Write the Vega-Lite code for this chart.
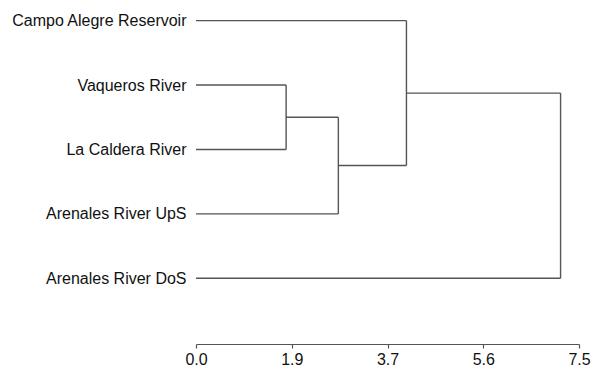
{
  "$schema": "https://vega.github.io/schema/vega-lite/v6.json",
  "width": 383,
  "height": 344,
  "padding": {"left": 10, "top": 0, "right": 5, "bottom": 5},
  "background": "white",
  "config": {
    "view": {"stroke": null},
    "font": "Liberation Sans"
  },
  "data": {
    "values": [
      {"seg": "Campo Alegre Reservoir", "x": 0, "x2": 4.11, "y": 1, "y2": 1},
      {"seg": "Vaqueros River", "x": 0, "x2": 1.76, "y": 2, "y2": 2},
      {"seg": "La Caldera River", "x": 0, "x2": 1.76, "y": 3, "y2": 3},
      {"seg": "Arenales River UpS", "x": 0, "x2": 2.78, "y": 4, "y2": 4},
      {"seg": "Arenales River DoS", "x": 0, "x2": 7.12, "y": 5, "y2": 5},
      {"seg": "join1 vertical", "x": 1.76, "x2": 1.76, "y": 2, "y2": 3},
      {"seg": "join1 stem", "x": 1.76, "x2": 2.78, "y": 2.5, "y2": 2.5},
      {"seg": "join2 vertical", "x": 2.78, "x2": 2.78, "y": 2.5, "y2": 4},
      {"seg": "join2 stem", "x": 2.78, "x2": 4.11, "y": 3.25, "y2": 3.25},
      {"seg": "join3 vertical", "x": 4.11, "x2": 4.11, "y": 1, "y2": 3.25},
      {"seg": "join3 stem", "x": 4.11, "x2": 7.12, "y": 2.125, "y2": 2.125},
      {"seg": "join4 vertical", "x": 7.12, "x2": 7.12, "y": 2.125, "y2": 5}
    ]
  },
  "mark": {"type": "rule", "color": "#555555", "strokeWidth": 1.4},
  "encoding": {
    "x": {
      "field": "x",
      "type": "quantitative",
      "scale": {"domain": [0, 7.48], "nice": false, "zero": false},
      "axis": {
        "title": null,
        "values": [0, 1.87, 3.74, 5.61, 7.48],
        "format": ".1f",
        "grid": false,
        "domainColor": "#555555",
        "domainWidth": 1.2,
        "tickColor": "#555555",
        "tickWidth": 1.2,
        "tickSize": 4,
        "labelPadding": 3,
        "labelFontSize": 16,
        "labelColor": "#111111",
        "labelFont": "Liberation Sans",
        "labelFlush": false,
        "labelOverlap": false
      }
    },
    "x2": {"field": "x2"},
    "y": {
      "field": "y",
      "type": "quantitative",
      "scale": {"domain": [0.68, 6.02], "reverse": true, "nice": false, "zero": false},
      "axis": {
        "title": null,
        "values": [1, 2, 3, 4, 5],
        "labelExpr": "['', 'Campo Alegre Reservoir', 'Vaqueros River', 'La Caldera River', 'Arenales River UpS', 'Arenales River DoS'][datum.value]",
        "domain": false,
        "ticks": false,
        "grid": false,
        "labelPadding": 10,
        "labelFontSize": 16,
        "labelColor": "#111111",
        "labelFont": "Liberation Sans"
      }
    },
    "y2": {"field": "y2"}
  }
}
